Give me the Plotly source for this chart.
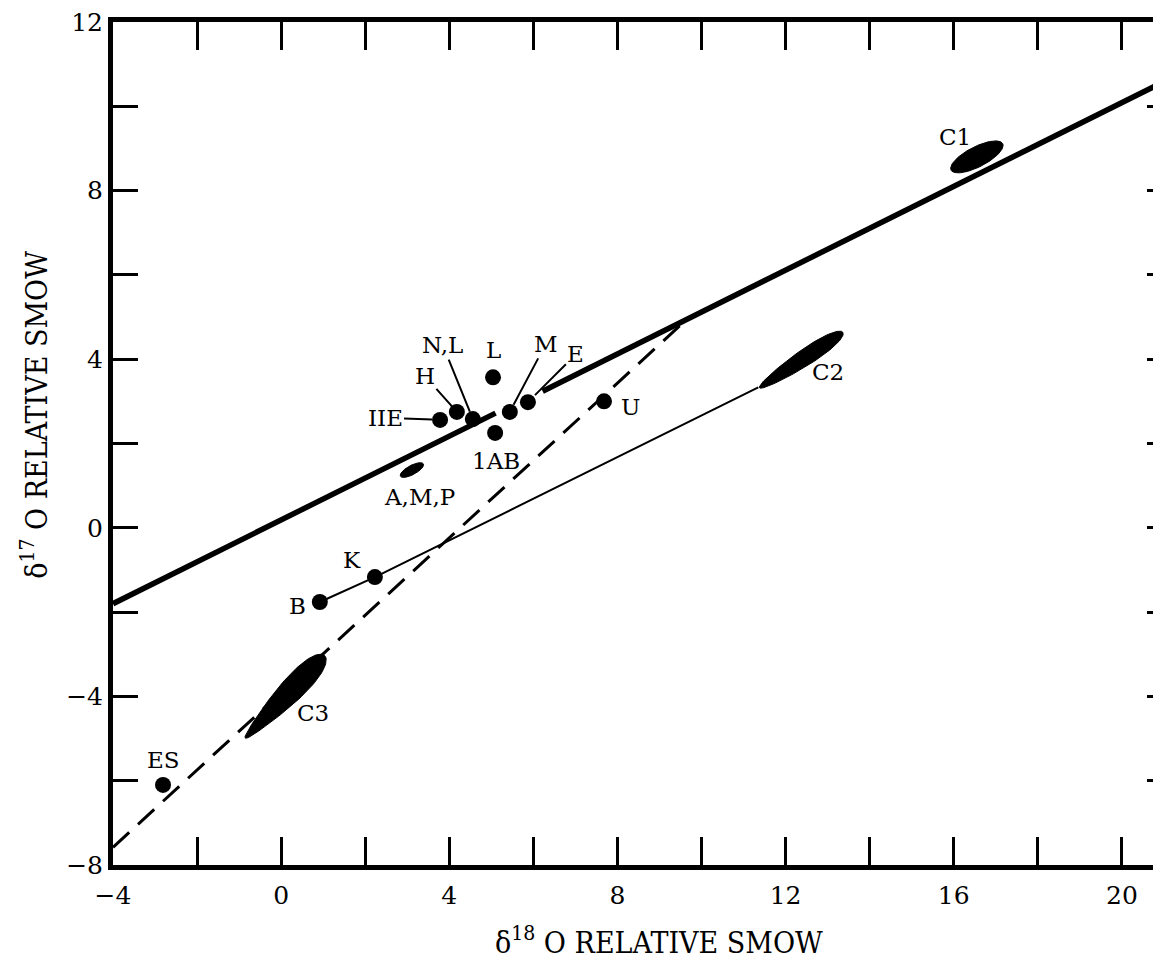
import numpy as np
import plotly.graph_objects as go

# ---------------- data ----------------
pt_names = ["ES", "B", "K", "IIE", "H", "N,L", "L", "1AB", "M", "E", "U"]
pt_x = [-2.81, 0.92, 2.23, 3.78, 4.18, 4.56, 5.04, 5.09, 5.44, 5.87, 7.68]
pt_y = [-6.10, -1.76, -1.17, 2.56, 2.75, 2.58, 3.57, 2.25, 2.75, 2.98, 3.00]

# terrestrial fractionation line (thick), drawn in two pieces
tfl_x = [-4.0, 5.10, None, 6.22, 20.93]
tfl_y = [-1.80, 2.72, None, 3.24, 10.55]

# thin line B - K - C2
thin_x = [0.92, 2.23, 11.35]
thin_y = [-1.76, -1.17, 3.33]

# dashed mixing line
dash_x = [-4.0, 9.49]
dash_y = [-7.58, 4.80]

# ellipse-like regions: centre x, centre y, half length, half width (data units), slope angle (deg), taper
ell_names = ["C1", "C2", "C3", "A,M,P"]
ell_cx = [16.55, 12.37, 0.09, 3.11]
ell_cy = [8.80, 3.98, -4.01, 1.37]
ell_a = [0.69, 1.19, 1.36, 0.31]
ell_b = [0.24, 0.19, 0.26, 0.11]
ell_ang = [27, 33.5, 46, 28]
ell_taper = [0.0, 0.25, 0.45, 0.0]

x_tickvals = list(range(-4, 21, 2))
x_ticktext = ["\u22124", "", "0", "", "4", "", "8", "", "12", "", "16", "", "20"]
y_tickvals = list(range(-8, 13, 2))
y_ticktext = ["\u22128", "", "\u22124", "", "0", "", "4", "", "8", "", "12"]

FONT = "DejaVu Serif"
TFONT = "DejaVu Serif Condensed, DejaVu Serif"

fig = go.Figure()

# ellipses
t = np.linspace(0, 2 * np.pi, 120)
for cx, cy, a, b, ang, tp in zip(ell_cx, ell_cy, ell_a, ell_b, ell_ang, ell_taper):
    s = np.cos(t)
    w = np.sin(t) * (1 + tp * s)
    u = a * s
    v = b * w
    th = np.radians(ang)
    ex = cx + u * np.cos(th) - v * np.sin(th)
    ey = cy + u * np.sin(th) + v * np.cos(th)
    fig.add_trace(go.Scatter(x=ex, y=ey, mode="lines", fill="toself",
                             fillcolor="black", line=dict(color="black", width=1),
                             hoverinfo="skip", showlegend=False))

fig.add_trace(go.Scatter(x=tfl_x, y=tfl_y, mode="lines",
                         line=dict(color="black", width=5.5), showlegend=False))
fig.add_trace(go.Scatter(x=thin_x, y=thin_y, mode="lines",
                         line=dict(color="black", width=2), showlegend=False))
fig.add_trace(go.Scatter(x=dash_x, y=dash_y, mode="lines",
                         line=dict(color="black", width=3, dash="22px,12px"), showlegend=False))
fig.add_trace(go.Scatter(x=pt_x, y=pt_y, mode="markers",
                         marker=dict(color="black", size=16), showlegend=False))
# trace on right axis so the mirrored y ticks are drawn
fig.add_trace(go.Scatter(x=[0], y=[0], yaxis="y2", mode="markers",
                         marker=dict(size=1, opacity=0), hoverinfo="skip", showlegend=False))

lab_font = dict(family=FONT, size=23, color="black")

# labels without leader lines (pixel offsets)
plain_offsets = {"ES": (0, 25), "B": (-22, -4), "K": (-23, 17), "L": (0, 27),
                 "1AB": (1, -28), "U": (26, -6)}
for n, x, y in zip(pt_names, pt_x, pt_y):
    if n in plain_offsets:
        dx, dy = plain_offsets[n]
        fig.add_annotation(x=x, y=y, text=n, showarrow=False, xshift=dx, yshift=dy,
                           font=lab_font)

# labels with leader lines
arrow_offsets = {"IIE": (-55, -2, 8), "H": (-32, -36, 7), "N,L": (-30, -74, 8),
                 "M": (36, -68, 8), "E": (48, -48, 10)}
for n, x, y in zip(pt_names, pt_x, pt_y):
    if n in arrow_offsets:
        ax, ay, sd = arrow_offsets[n]
        fig.add_annotation(x=x, y=y, text=n, showarrow=True, ax=ax, ay=ay,
                           arrowhead=0, arrowwidth=2, arrowcolor="black", standoff=sd,
                           font=lab_font)

ell_offsets = {"C1": (-22, 20), "C2": (27, -12), "C3": (28, -16), "A,M,P": (8, -27)}
for n, x, y in zip(ell_names, ell_cx, ell_cy):
    dx, dy = ell_offsets[n]
    fig.add_annotation(x=x, y=y, text=n, showarrow=False, xshift=dx, yshift=dy,
                       font=lab_font)

title_font = dict(family=TFONT, size=30, color="black")
# axis titles
fig.add_annotation(xref="paper", yref="paper", x=0.521, y=-0.089, xanchor="center", yanchor="middle",
                   text="\u03b4<sup>18</sup> O RELATIVE SMOW", showarrow=False, font=title_font)
fig.add_annotation(xref="paper", yref="paper", x=-0.0744, y=0.534, xanchor="center", yanchor="middle",
                   text="\u03b4<sup>17</sup> O RELATIVE SMOW", textangle=-90, showarrow=False,
                   font=title_font)

fig.update_layout(
    width=1153, height=958,
    margin=dict(l=105, r=0, t=14, b=101),
    paper_bgcolor="white", plot_bgcolor="white",
    font=dict(family=FONT, size=25, color="black"),
    xaxis=dict(range=[-4, 20.93], tickmode="array", tickvals=x_tickvals, ticktext=x_ticktext,
               ticks="inside", ticklen=28, tickwidth=3, tickcolor="black",
               showline=True, linewidth=5, linecolor="black", mirror="ticks",
               showgrid=False, zeroline=False, ticklabelstandoff=4,
               ticklabeloverflow="allow"),
    yaxis=dict(range=[-8, 12], tickmode="array", tickvals=y_tickvals, ticktext=y_ticktext,
               ticks="inside", ticklen=25, tickwidth=3, tickcolor="black",
               showline=True, linewidth=5, linecolor="black",
               showgrid=False, zeroline=False, ticklabeloverflow="allow"),
    yaxis2=dict(range=[-8, 12], overlaying="y", side="right", tickmode="array",
                tickvals=y_tickvals, ticktext=[""] * len(y_tickvals), showticklabels=False,
                ticks="inside", ticklen=14, tickwidth=3, tickcolor="black",
                showline=False, showgrid=False, zeroline=False),
)

fig.write_html("out.html")
